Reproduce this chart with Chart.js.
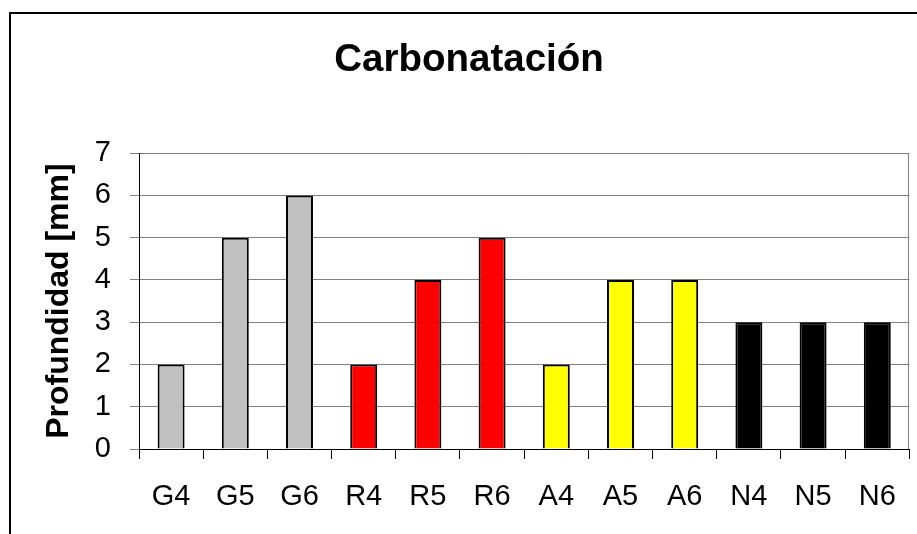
<!DOCTYPE html>
<html>
<head>
<meta charset="utf-8">
<script src="https://cdn.jsdelivr.net/npm/chart.js@4/dist/chart.umd.min.js"></script>
<style>
  html, body { margin: 0; padding: 0; background: #fff; }
  #wrap { width: 917px; height: 534px; }
</style>
</head>
<body>
<div id="wrap"><canvas id="carbChart" width="917" height="534"></canvas></div>
<script>
// Probetas y profundidad de carbonatación
const muestras = ['G4', 'G5', 'G6', 'R4', 'R5', 'R6', 'A4', 'A5', 'A6', 'N4', 'N5', 'N6'];
const profundidad = [2, 5, 6, 2, 4, 5, 2, 4, 4, 3, 3, 3];
const colores = ['#C0C0C0', '#C0C0C0', '#C0C0C0', '#FF0000', '#FF0000', '#FF0000',
                 '#FFFF00', '#FFFF00', '#FFFF00', '#000000', '#000000', '#000000'];
const yTicks = [0, 1, 2, 3, 4, 5, 6, 7];

const fuente = 'Arial, "Liberation Sans", sans-serif';

// marco exterior y borde derecho del área de trazado
const marcos = {
    id: 'marcos',
    afterDraw(chart) {
        const c = chart.ctx;
        const a = chart.chartArea;
        c.save();
        c.strokeStyle = '#808080';
        c.lineWidth = 1;
        c.beginPath();
        c.moveTo(Math.round(a.right) - 0.5, a.top);
        c.lineTo(Math.round(a.right) - 0.5, a.bottom);
        c.stroke();
        c.strokeStyle = '#000';
        c.lineWidth = 2;
        c.strokeRect(10, 13, 940, 560);
        c.restore();
    }
};

const ctx = document.getElementById('carbChart').getContext('2d');
const chart = new Chart(ctx, {
    type: 'bar',
    data: {
        labels: muestras,
        datasets: [{
            data: profundidad,
            backgroundColor: colores,
            borderColor: '#000',
            borderWidth: 2,
            barPercentage: 0.42,
            categoryPercentage: 1
        }]
    },
    options: {
        responsive: false,
        animation: false,
        layout: { padding: { left: 25, right: 4, top: 0, bottom: 0 } },
        plugins: {
            legend: { display: false },
            tooltip: { enabled: false },
            title: {
                display: true,
                text: 'Carbonatación',
                color: '#000',
                font: { family: fuente, size: 38.5, weight: 'bold' },
                padding: { top: 37, bottom: 70 }
            }
        },
        scales: {
            x: {
                afterFit: s => { s.height = 85; },
                grid: { drawOnChartArea: false, color: '#000', tickLength: 10, offset: true },
                border: { color: '#000', width: 1 },
                ticks: { color: '#000', padding: 21, font: { family: fuente, size: 29 } }
            },
            y: {
                min: 0,
                max: 7,
                afterFit: s => { s.width = 114; },
                afterBuildTicks: s => { s.ticks = yTicks.map(v => ({ value: v })); },
                grid: { color: '#808080', tickLength: 9 },
                border: { color: '#000', width: 1 },
                ticks: { color: '#000', padding: 19, font: { family: fuente, size: 29 } },
                title: {
                    display: true,
                    text: 'Profundidad [mm]',
                    color: '#000',
                    font: { family: fuente, size: 32, weight: 'bold' },
                    padding: { top: 15, bottom: 0 }
                }
            }
        }
    },
    plugins: [marcos]
});
</script>
</body>
</html>
